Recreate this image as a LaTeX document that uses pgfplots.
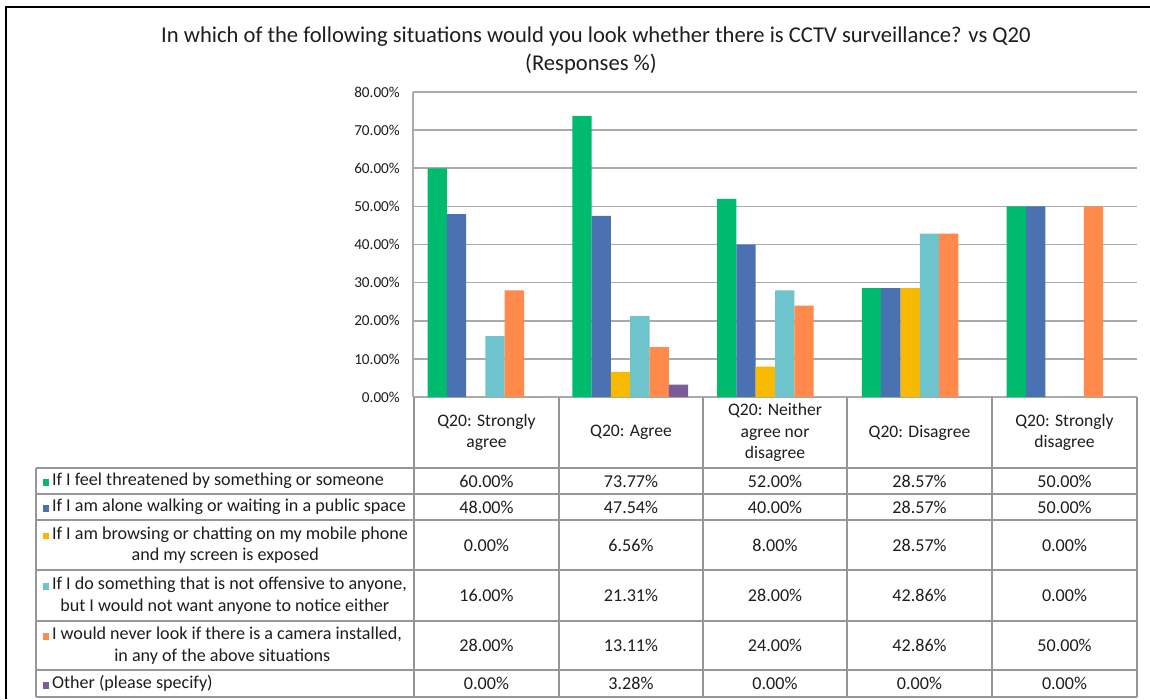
\documentclass[border=0pt]{standalone}
\usepackage{pgfplots}
\pgfplotsset{compat=1.18}
\usepackage{fontspec}
\setmainfont{Carlito}
\definecolor{cgreen}{RGB}{0,186,110}
\definecolor{cblue}{RGB}{74,114,178}
\definecolor{cyellow}{RGB}{247,186,0}
\definecolor{ccyan}{RGB}{110,196,204}
\definecolor{corange}{RGB}{255,138,76}
\definecolor{cpurple}{RGB}{122,92,152}
\definecolor{gridgray}{RGB}{170,170,170}
\definecolor{tabgray}{RGB}{150,150,150}
\definecolor{txt}{RGB}{30,30,30}
\newcommand{\key}[1]{{\color{#1}\rule{6.5pt}{6.5pt}}\hspace{3pt}}
\begin{document}
\begin{tikzpicture}[x=1pt,y=1pt]
\path[use as bounding box] (0,0) rectangle (1150,-699);
\fill[white] (0,0) rectangle (1150,-699);
\draw[black, line width=1.6pt] (6,-699) -- (6,-7) -- (1150,-7);
% title
\node[txt, font=\fontsize{22.6}{26}\selectfont] at (596,-37) {In which of the following situations would you look whether there is CCTV surveillance? vs Q20};
\node[txt, font=\fontsize{22.6}{26}\selectfont] at (591,-64) {(Responses \%)};
\begin{axis}[
  at={(413pt,-397pt)}, anchor=south west,
  scale only axis, width=724pt, height=305pt,
  xmin=-0.5, xmax=4.5, ymin=0, ymax=80,
  ybar=0pt, bar width=19.3pt,
  axis x line=none, axis y line*=left,
  axis line style={draw=gridgray, line width=1.5pt, -},
  xtick=\empty,
  ytick={0,10,20,30,40,50,60,70,80},
  yticklabels={0.00\%,10.00\%,20.00\%,30.00\%,40.00\%,50.00\%,60.00\%,70.00\%,80.00\%},
  ymajorgrids, grid style={draw=gridgray, line width=1.6pt},
  major tick length=0pt,
  yticklabel style={font=\fontsize{15.2}{17}\selectfont, text=txt, inner sep=0pt, xshift=-13pt},
]
\addplot[fill=cgreen, draw=none] coordinates {(0,60) (1,73.77) (2,52) (3,28.57) (4,50)};
\addplot[fill=cblue, draw=none] coordinates {(0,48) (1,47.54) (2,40) (3,28.57) (4,50)};
\addplot[fill=cyellow, draw=none] coordinates {(0,0) (1,6.56) (2,8) (3,28.57) (4,0)};
\addplot[fill=ccyan, draw=none] coordinates {(0,16) (1,21.31) (2,28) (3,42.86) (4,0)};
\addplot[fill=corange, draw=none] coordinates {(0,28) (1,13.11) (2,24) (3,42.86) (4,50)};
\addplot[fill=cpurple, draw=none] coordinates {(0,0) (1,3.28) (2,0) (3,0) (4,0)};
\end{axis}
% table grid
\begin{scope}[tabgray, line width=1.3pt]
\foreach \x in {414,559,703,847,992,1137} \draw (\x,-397) -- (\x,-697);
\draw (36,-468) -- (36,-697);
\foreach \y in {468,494,520,570,621,670,697} \draw (36,-\y) -- (1137,-\y);
\end{scope}
% header
\begin{scope}[every node/.style={txt, align=center, font=\fontsize{17.6}{21.5}\selectfont}]
\node at (486.5,-432.5) {Q20: Strongly\\agree};
\node at (631,-432.5) {Q20: Agree};
\node at (775,-432.5) {Q20: Neither\\agree nor\\disagree};
\node at (919.5,-432.5) {Q20: Disagree};
\node at (1064.5,-432.5) {Q20: Strongly\\disagree};
\end{scope}
\begin{scope}[every node/.style={txt, align=center, font=\fontsize{18.1}{21.5}\selectfont}]
% legend column
\node[anchor=west] at (39,-481) {\key{cgreen}If I feel threatened by something or someone};
\node[anchor=west] at (39,-507) {\key{cblue}If I am alone walking or waiting in a public space};
\node[anchor=west] at (39,-545) {\key{cyellow}If I am browsing or chatting on my mobile phone\\and my screen is exposed};
\node[anchor=west] at (39,-595.5) {\key{ccyan}If I do something that is not offensive to anyone,\\but I would not want anyone to notice either};
\node[anchor=west] at (39,-645.5) {\key{corange}I would never look if there is a camera installed,\\in any of the above situations};
\node[anchor=west] at (39,-683.5) {\key{cpurple}Other (please specify)};
% values
\foreach \yy/\a/\b/\c/\d/\e in {481/60.00/73.77/52.00/28.57/50.00, 507/48.00/47.54/40.00/28.57/50.00, 545/0.00/6.56/8.00/28.57/0.00, 595.5/16.00/21.31/28.00/42.86/0.00, 645.5/28.00/13.11/24.00/42.86/50.00, 683.5/0.00/3.28/0.00/0.00/0.00}{
  \node at (486.5,-\yy) {\a\%};
  \node at (631,-\yy) {\b\%};
  \node at (775,-\yy) {\c\%};
  \node at (919.5,-\yy) {\d\%};
  \node at (1064.5,-\yy) {\e\%};
}
\end{scope}
\end{tikzpicture}
\end{document}
